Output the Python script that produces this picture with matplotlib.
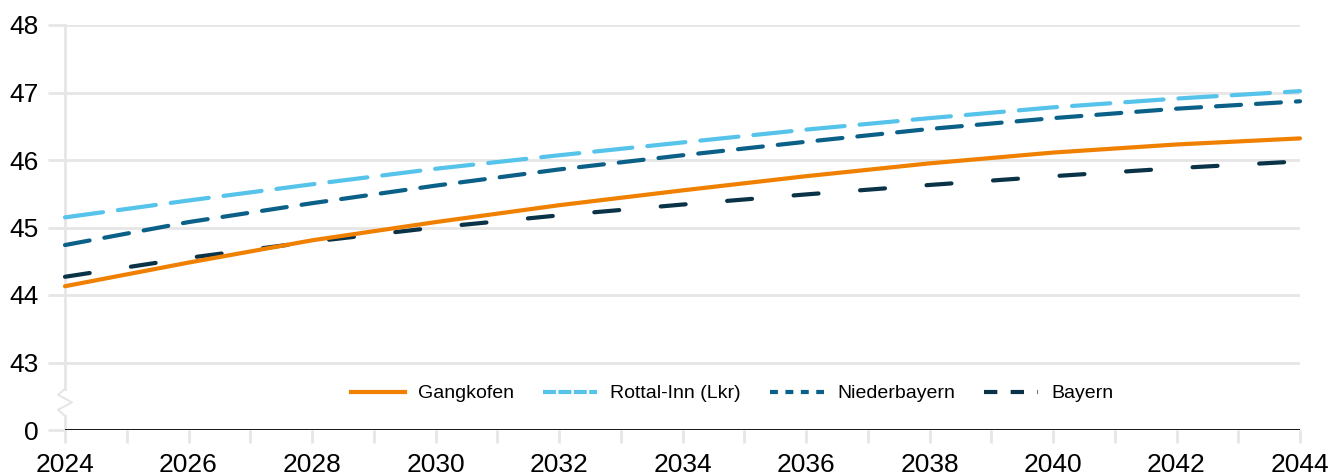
import matplotlib
matplotlib.use("Agg")
import matplotlib.pyplot as plt
import matplotlib.transforms as mtransforms
from matplotlib.lines import Line2D

years = [2024, 2026, 2028, 2030, 2032, 2034, 2036, 2038, 2040, 2042, 2044]
gangkofen = [44.13, 44.48, 44.81, 45.08, 45.33, 45.55, 45.76, 45.95, 46.11, 46.23, 46.32]
rottal_inn = [45.15, 45.40, 45.64, 45.87, 46.07, 46.26, 46.45, 46.62, 46.78, 46.91, 47.02]
niederbayern = [44.74, 45.08, 45.36, 45.62, 45.86, 46.07, 46.27, 46.46, 46.62, 46.76, 46.87]
bayern = [44.27, 44.55, 44.79, 45.00, 45.18, 45.34, 45.49, 45.63, 45.76, 45.88, 45.98]

series_names = ["Gangkofen", "Rottal-Inn (Lkr)", "Niederbayern", "Bayern"]
ytick_vals = [42, 43, 44, 45, 46, 47, 48]
ytick_labels = ["0", "43", "44", "45", "46", "47", "48"]
xtick_labels = [str(y) for y in range(2024, 2045, 2)]

plt.rcParams['font.family'] = ['Liberation Sans', 'DejaVu Sans']

fig = plt.figure(figsize=(13.35, 4.76), dpi=100)
ax = fig.add_axes([65/1335, 1-430/476, 1235/1335, 405/476])

colors = ["#f08000", "#55c3ea", "#0b6088", "#0a3348"]
lw = 3.0
ax.plot(years, gangkofen, color=colors[0], lw=lw, solid_capstyle="round", zorder=5, clip_on=False)
ax.plot(years, rottal_inn, color=colors[1], lw=lw, dashes=(9.2, 3.6), dash_capstyle="round", zorder=4, clip_on=False)
ax.plot(years, niederbayern, color=colors[2], lw=lw, dashes=(6.0, 3.6), dash_capstyle="round", zorder=4, clip_on=False)
ax.plot(years, bayern, color=colors[3], lw=lw, dashes=(6.0, 10.0), dash_capstyle="round", zorder=4, clip_on=False)

ax.set_xlim(2024, 2044)
ax.set_ylim(42, 48)

grid_c = "#e6e6e6"
for v in ytick_vals[1:]:
    ax.axhline(v, color=grid_c, lw=2, zorder=1)
ax.axhline(42, color="black", lw=2, zorder=6)

ax.set_yticks(ytick_vals)
ax.set_yticklabels(ytick_labels, fontsize=19)
ax.tick_params(axis='y', length=12, color=grid_c, width=2, pad=7)
ax.set_xticks(range(2024, 2045, 2))
ax.set_xticklabels(xtick_labels, fontsize=19)
ax.set_xticks(range(2025, 2045, 2), minor=True)
ax.tick_params(axis='x', which='both', length=9.5, color=grid_c, width=2, pad=7)

for s in ax.spines.values():
    s.set_visible(False)

# left spine with axis break
trans = mtransforms.blended_transform_factory(ax.transAxes, ax.transData)
dx = 7/1235
ax.plot([0, 0], [42.61, 48], color=grid_c, lw=2, transform=trans, clip_on=False, zorder=1)
ax.plot([0, -dx, dx, -dx, 0], [42.61, 42.52, 42.41, 42.30, 42.21], color=grid_c, lw=1.5,
        transform=trans, clip_on=False, zorder=1)
ax.plot([0, 0], [42, 42.21], color=grid_c, lw=2, transform=trans, clip_on=False, zorder=1)

handles = [
    Line2D([], [], color=colors[0], lw=lw),
    Line2D([], [], color=colors[1], lw=lw, dashes=(3.1, 0.6)),
    Line2D([], [], color=colors[2], lw=lw, dashes=(1.9, 1.8)),
    Line2D([], [], color=colors[3], lw=lw, dashes=(3.2, 3.2)),
]
leg = ax.legend(handles, series_names, loc="center", bbox_to_anchor=(0.54, 0.09), ncol=4, frameon=False,
                fontsize=14, handlelength=2.8, columnspacing=1.5, handletextpad=0.65)

fig.savefig("out.png", dpi=100)
